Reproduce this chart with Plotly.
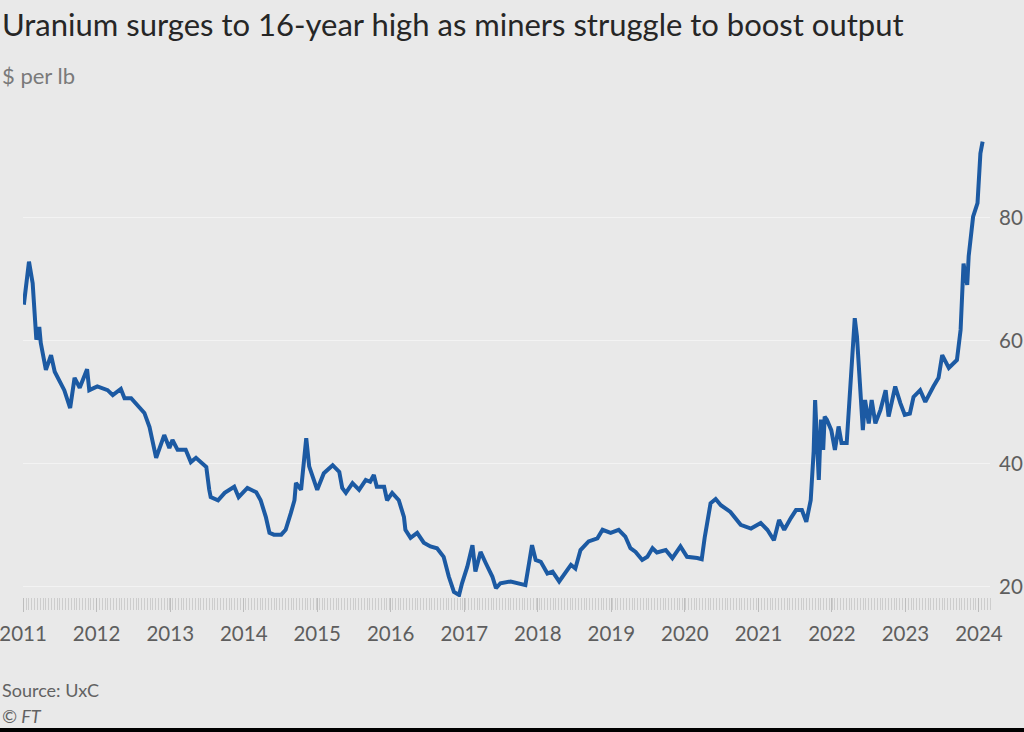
import plotly.graph_objects as go
import pandas as pd

# decimal-year positions of readings and uranium price ($ per lb)
years = [
    2011.01, 2011.08, 2011.13, 2011.18, 2011.22, 2011.24, 2011.31, 2011.38, 2011.43, 2011.49,
    2011.56, 2011.64, 2011.70, 2011.77, 2011.87, 2011.90, 2012.01, 2012.15, 2012.22, 2012.33,
    2012.38, 2012.47, 2012.56, 2012.65, 2012.72, 2012.76, 2012.81, 2012.92, 2012.99, 2013.03,
    2013.10, 2013.21, 2013.28, 2013.35, 2013.49, 2013.53, 2013.55, 2013.65, 2013.74, 2013.87,
    2013.93, 2014.05, 2014.17, 2014.23, 2014.30, 2014.35, 2014.41, 2014.51, 2014.57, 2014.64,
    2014.69, 2014.71, 2014.78, 2014.85, 2014.89, 2015.00, 2015.09, 2015.21, 2015.30, 2015.34,
    2015.39, 2015.48, 2015.57, 2015.66, 2015.72, 2015.77, 2015.81, 2015.91, 2015.95, 2016.02,
    2016.11, 2016.18, 2016.20, 2016.27, 2016.36, 2016.45, 2016.54, 2016.63, 2016.72, 2016.79,
    2016.86, 2016.93, 2016.97, 2017.04, 2017.11, 2017.15, 2017.22, 2017.29, 2017.38, 2017.43,
    2017.49, 2017.63, 2017.74, 2017.83, 2017.88, 2017.92, 2017.97, 2018.04, 2018.13, 2018.20,
    2018.29, 2018.36, 2018.45, 2018.51, 2018.58, 2018.69, 2018.81, 2018.88, 2018.99, 2019.10,
    2019.19, 2019.26, 2019.33, 2019.42, 2019.49, 2019.56, 2019.62, 2019.74, 2019.83, 2019.94,
    2020.03, 2020.17, 2020.23, 2020.27, 2020.35, 2020.42, 2020.49, 2020.62, 2020.67, 2020.76,
    2020.90, 2021.03, 2021.12, 2021.21, 2021.28, 2021.35, 2021.44, 2021.51, 2021.59, 2021.65,
    2021.71, 2021.75, 2021.77, 2021.80, 2021.82, 2021.85, 2021.88, 2021.90, 2021.93, 2021.99,
    2022.04, 2022.09, 2022.13, 2022.20, 2022.27, 2022.31, 2022.34, 2022.38, 2022.42, 2022.45,
    2022.50, 2022.54, 2022.59, 2022.66, 2022.73, 2022.77, 2022.86, 2022.93, 2022.99, 2023.06,
    2023.11, 2023.20, 2023.27, 2023.38, 2023.45, 2023.50, 2023.59, 2023.70, 2023.75, 2023.79,
    2023.84, 2023.86, 2023.92, 2023.98, 2024.02, 2024.05,
]
prices = [
    65.9, 72.9, 69.4, 60.2, 62.3, 59.7, 55.3, 57.7, 55.0, 53.7,
    52.0, 49.1, 54.0, 52.4, 55.4, 52.0, 52.6, 52.0, 51.2, 52.2,
    50.7, 50.7, 49.6, 48.3, 46.0, 43.4, 41.0, 44.7, 42.6, 43.9,
    42.3, 42.3, 40.3, 41.0, 39.5, 35.8, 34.6, 34.1, 35.3, 36.3,
    34.6, 36.1, 35.4, 34.1, 31.4, 28.8, 28.5, 28.5, 29.3, 32.0,
    34.1, 36.9, 35.8, 44.2, 39.6, 35.8, 38.5, 39.8, 38.7, 36.1,
    35.3, 36.9, 35.8, 37.4, 37.1, 38.2, 36.3, 36.3, 34.1, 35.3,
    34.1, 31.4, 29.3, 28.0, 28.8, 27.2, 26.6, 26.3, 24.9, 21.7,
    19.2, 18.7, 20.6, 23.3, 26.8, 22.5, 25.7, 23.9, 21.7, 19.8,
    20.6, 20.9, 20.6, 20.3, 23.9, 26.8, 24.4, 24.1, 22.2, 22.5,
    20.9, 22.0, 23.6, 23.0, 26.0, 27.4, 27.9, 29.3, 28.8, 29.3,
    28.2, 26.3, 25.7, 24.4, 24.9, 26.3, 25.6, 26.0, 24.7, 26.6,
    24.9, 24.7, 24.5, 28.0, 33.6, 34.3, 33.3, 32.2, 31.4, 30.1,
    29.5, 30.4, 29.3, 27.6, 30.9, 29.3, 31.2, 32.5, 32.5, 30.6,
    34.1, 42.0, 50.4, 43.0, 37.4, 47.2, 42.3, 47.7, 47.2, 45.5,
    42.3, 46.1, 43.4, 43.4, 57.4, 63.7, 60.7, 54.2, 45.5, 50.4,
    46.6, 50.4, 46.6, 48.8, 52.0, 47.7, 52.6, 49.9, 48.0, 48.2,
    50.9, 52.0, 50.1, 52.6, 54.0, 57.7, 55.6, 56.9, 61.8, 72.6,
    69.1, 73.8, 80.2, 82.4, 90.5, 92.4,
]

y_ticks = [20, 40, 60, 80]
x_range = ["2010-12-31 12:00", "2024-02-25"]
y_range = [18.37, 95.93]

title_text = "Uranium surges to 16-year high as miners struggle to boost output"
subtitle_text = "$ per lb"
source_text = "Source: UxC"
credit_text = "<i>© FT</i>"


def to_date(y):
    base = int(y)
    return pd.Timestamp(base, 1, 1) + pd.Timedelta(days=(y - base) * 365.25)


dates = [to_date(y) for y in years]

BG = "#e9e9e9"
FONT = "Lato, 'Open Sans', sans-serif"

fig = go.Figure()
fig.add_trace(go.Scatter(
    x=dates, y=prices, mode="lines",
    line=dict(color="#1c5aa3", width=4),
    hoverinfo="skip", showlegend=False,
))

W, H = 1024, 732
ml, mr, mt, mb = 23, 34, 120, 135
pw, ph = W - ml - mr, H - mt - mb


def px(xp):
    return (xp - ml) / pw


def py(yp):
    return (H - mb - yp) / ph


fig.update_layout(
    width=W, height=H,
    margin=dict(l=ml, r=mr, t=mt, b=mb, autoexpand=False),
    paper_bgcolor=BG, plot_bgcolor=BG,
    font=dict(family=FONT, color="#5e5e5e"),
    showlegend=False,
    xaxis=dict(
        type="date", range=x_range, showgrid=False, zeroline=False,
        showline=False, dtick="M12", tick0="2011-01-01", tickformat="%Y",
        ticks="outside", ticklen=14, tickcolor="#bdbdbd", tickwidth=1,
        tickfont=dict(size=20.5, color="#5e5e5e", family=FONT),
        ticklabelstandoff=4, ticklabeloverflow="allow", automargin=False,
        minor=dict(ticks="outside", dtick=14 * 86400000, ticklen=12,
                   tickcolor="#cdcdcd", tickwidth=1, showgrid=False),
    ),
    yaxis=dict(
        range=y_range, side="right", tickvals=y_ticks,
        showgrid=True, gridcolor="#f3f3f3", gridwidth=1,
        zeroline=False, showline=False,
        ticks="outside", ticklen=4, tickcolor="rgba(0,0,0,0)",
        tickfont=dict(size=20.5, color="#5e5e5e", family=FONT),
        ticklabeloverflow="allow", automargin=False,
    ),
)

annotations = [
    dict(text=title_text, x=px(0), y=py(24), xanchor="left", yanchor="middle",
         font=dict(size=31, color="#262626", family=FONT)),
    dict(text=subtitle_text, x=px(0), y=py(75), xanchor="left", yanchor="middle",
         font=dict(size=22, color="#7a7a7a", family=FONT)),
    dict(text=source_text, x=px(0), y=py(690), xanchor="left", yanchor="middle",
         font=dict(size=18, color="#626262", family=FONT)),
    dict(text=credit_text, x=px(0), y=py(716), xanchor="left", yanchor="middle",
         font=dict(size=18, color="#626262", family=FONT)),
]
for a in annotations:
    a.update(xref="paper", yref="paper", showarrow=False)
fig.update_layout(annotations=annotations)

fig.add_shape(type="rect", xref="paper", yref="paper",
              x0=px(-2), x1=px(W + 2), y0=py(728), y1=py(H + 2),
              fillcolor="#000000", line=dict(width=0), layer="above")

fig.write_html(
    "out.html",
    config={"displayModeBar": False},
    post_script="document.body.style.margin='0';document.body.style.padding='0';"
                "document.body.style.overflow='hidden';",
)
